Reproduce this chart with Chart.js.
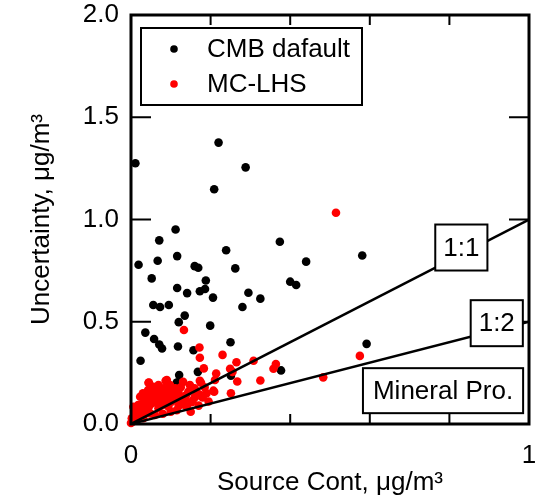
<!DOCTYPE html>
<html lang="en">
<head>
<meta charset="UTF-8">
<title>Mineral Pro. - uncertainty vs source contribution</title>
<script src="https://cdn.jsdelivr.net/npm/chart.js"></script>
<style>
  body { margin: 0; padding: 0; background: #ffffff; }
  canvas { display: block; }
</style>
</head>
<body>
<canvas id="chart" width="539" height="500"></canvas>
<script>
// series (x = source contribution, y = uncertainty, ug/m3)
const cmbX = [0.220, 0.011, 0.288, 0.209, 0.112, 0.071, 0.374, 0.239, 0.019, 0.067,
              0.116, 0.160, 0.169, 0.262, 0.440, 0.581, 0.052, 0.188, 0.116, 0.141,
              0.173, 0.186, 0.206, 0.295, 0.325, 0.400, 0.415, 0.056, 0.073, 0.095,
              0.280, 0.135, 0.120, 0.199, 0.036, 0.058, 0.071, 0.078, 0.118, 0.250,
              0.157, 0.024, 0.592, 0.168, 0.121, 0.377, 0.251, 0.115];
const cmbY = [1.376, 1.275, 1.255, 1.148, 0.951, 0.898, 0.891, 0.850, 0.779, 0.798,
              0.821, 0.772, 0.764, 0.761, 0.794, 0.824, 0.712, 0.702, 0.665, 0.640,
              0.649, 0.660, 0.618, 0.642, 0.613, 0.696, 0.680, 0.582, 0.572, 0.582,
              0.572, 0.530, 0.498, 0.481, 0.447, 0.416, 0.389, 0.369, 0.379, 0.400,
              0.361, 0.309, 0.392, 0.255, 0.239, 0.262, 0.236, 0.203];

const lhsX = [0.515, 0.133, 0.172, 0.173, 0.230, 0.265, 0.308, 0.364, 0.358, 0.575,
              0.483, 0.325, 0.267, 0.249, 0.214, 0.183, 0.207, 0.251, 0.176, 0.173,
              0.044, 0.087, 0.211, 0.255, 0.045, 0.090, 0.069, 0.131, 0.148, 0.176,
              0.111, 0.209, 0.173, 0.127, 0.152, 0.131, 0.060, 0.035, 0.018, 0.010,
              0.002, 0.000, 0.085, 0.102, 0.077, 0.052, 0.035, 0.069, 0.094, 0.023,
              0.048, 0.115, 0.014, 0.031, 0.060, 0.081, 0.098, 0.119, 0.144, 0.056,
              0.043, 0.023, 0.006, 0.040, 0.065, 0.075, 0.095, 0.105, 0.030, 0.050,
              0.015, 0.025, 0.045, 0.070, 0.085, 0.110, 0.135, 0.160, 0.190, 0.100,
              0.080, 0.120, 0.140, 0.005, 0.010, 0.020, 0.030, 0.055, 0.090, 0.125,
              0.160, 0.150, 0.170, 0.195, 0.185, 0.008, 0.012, 0.017, 0.022, 0.028,
              0.033, 0.038, 0.042, 0.047, 0.053, 0.058, 0.063, 0.068, 0.073, 0.078,
              0.083, 0.088, 0.093, 0.107, 0.113, 0.122, 0.138, 0.155, 0.167, 0.180];
const lhsY = [1.033, 0.460, 0.374, 0.324, 0.338, 0.302, 0.309, 0.293, 0.270, 0.333,
              0.228, 0.213, 0.208, 0.270, 0.247, 0.272, 0.163, 0.150, 0.140, 0.211,
              0.202, 0.211, 0.215, 0.255, 0.203, 0.215, 0.190, 0.206, 0.190, 0.202,
              0.174, 0.158, 0.141, 0.133, 0.106, 0.096, 0.150, 0.125, 0.093, 0.060,
              0.028, 0.005, 0.158, 0.109, 0.117, 0.101, 0.068, 0.077, 0.084, 0.044,
              0.052, 0.068, 0.020, 0.028, 0.044, 0.174, 0.190, 0.158, 0.158, 0.182,
              0.166, 0.133, 0.084, 0.140, 0.130, 0.145, 0.140, 0.160, 0.100, 0.120,
              0.050, 0.070, 0.085, 0.100, 0.120, 0.130, 0.120, 0.130, 0.150, 0.060,
              0.050, 0.090, 0.085, 0.012, 0.035, 0.080, 0.150, 0.160, 0.170, 0.180,
              0.175, 0.060, 0.090, 0.110, 0.180, 0.022, 0.045, 0.030, 0.060, 0.052,
              0.090, 0.078, 0.110, 0.098, 0.135, 0.112, 0.170, 0.140, 0.125, 0.150,
              0.095, 0.140, 0.110, 0.125, 0.145, 0.105, 0.140, 0.115, 0.150, 0.130];

// reference ratio lines
const refX = [0, 1];
const ratio11 = [0, 1];
const ratio12 = [0, 0.5];

const seriesNames = ['CMB dafault', 'MC-LHS'];
const ratioNames = ['1:1', '1:2'];
const panelName = 'Mineral Pro.';
const xTitle = 'Source Cont, \u03bcg/m\u00b3';
const yTitle = 'Uncertainty, \u03bcg/m\u00b3';

const FONT = '"Liberation Sans", Arial, sans-serif';
Chart.defaults.font.family = FONT;
Chart.defaults.font.size = 26;
Chart.defaults.color = '#000';

const toPoints = (xs, ys) => xs.map((v, i) => ({ x: v, y: ys[i] }));

// box with white fill, used for the ratio tags and the panel name
function boxedText(ctx, text, cx, cy, padX, h) {
    const w = ctx.measureText(text).width + 2 * padX;
    ctx.fillStyle = '#fff';
    ctx.fillRect(cx - w / 2, cy - h / 2, w, h);
    ctx.lineWidth = 2;
    ctx.strokeStyle = '#000';
    ctx.strokeRect(cx - w / 2, cy - h / 2, w, h);
    ctx.fillStyle = '#000';
    ctx.fillText(text, cx, cy + 1);
}

const decorations = {
    id: 'decorations',
    afterDatasetsDraw(chart) {
        const { ctx, chartArea: a, scales: { x, y } } = chart;
        ctx.save();

        // frame + inward ticks
        ctx.strokeStyle = '#000';
        ctx.lineWidth = 3;
        ctx.strokeRect(a.left, a.top, a.right - a.left, a.bottom - a.top);
        ctx.lineWidth = 2;
        ctx.beginPath();
        x.ticks.forEach(t => {
            const px = x.getPixelForValue(t.value);
            ctx.moveTo(px, a.bottom); ctx.lineTo(px, a.bottom - 10);
            ctx.moveTo(px, a.top); ctx.lineTo(px, a.top + 10);
        });
        y.ticks.forEach(t => {
            const py = y.getPixelForValue(t.value);
            ctx.moveTo(a.left, py); ctx.lineTo(a.left + 20, py);
            ctx.moveTo(a.right, py); ctx.lineTo(a.right - 20, py);
        });
        ctx.stroke();

        // tags on the ratio lines and panel name
        ctx.font = '26px ' + FONT;
        ctx.textAlign = 'center';
        ctx.textBaseline = 'middle';
        boxedText(ctx, ratioNames[0], x.getPixelForValue(0.830), y.getPixelForValue(0.863), 8, 46);
        boxedText(ctx, ratioNames[1], x.getPixelForValue(0.919), y.getPixelForValue(0.493), 8, 46);
        boxedText(ctx, panelName, x.getPixelForValue(0.784), y.getPixelForValue(0.163), 10, 45);

        // legend
        const lx = a.left + 10, ly = a.top + 13;
        ctx.fillStyle = '#fff';
        ctx.fillRect(lx, ly, 221, 77);
        ctx.lineWidth = 2;
        ctx.strokeRect(lx, ly, 221, 77);
        const cols = ['#000000', '#ff0000'];
        ctx.textAlign = 'left';
        seriesNames.forEach((name, i) => {
            const ry = ly + 21 + i * 35;
            ctx.fillStyle = cols[i];
            ctx.beginPath();
            ctx.arc(lx + 33, ry, 3.8, 0, Math.PI * 2);
            ctx.fill();
            ctx.fillStyle = '#000';
            ctx.fillText(name, lx + 66, ry + 1);
        });

        ctx.restore();
    }
};

new Chart(document.getElementById('chart'), {
    type: 'scatter',
    data: {
        datasets: [
            { label: ratioNames[0], data: toPoints(refX, ratio11), showLine: true, borderColor: '#000', borderWidth: 2.5, pointRadius: 0, order: 0 },
            { label: ratioNames[1], data: toPoints(refX, ratio12), showLine: true, borderColor: '#000', borderWidth: 2.5, pointRadius: 0, order: 0 },
            { label: seriesNames[1], data: toPoints(lhsX, lhsY), backgroundColor: '#ff0000', borderWidth: 0, pointRadius: 4.3, clip: false, order: 1 },
            { label: seriesNames[0], data: toPoints(cmbX, cmbY), backgroundColor: '#000000', borderWidth: 0, pointRadius: 4.3, clip: false, order: 2 }
        ]
    },
    options: {
        responsive: false,
        animation: false,
        layout: { padding: { left: 0, top: 15, right: 10, bottom: 0 } },
        plugins: { legend: { display: false }, tooltip: { enabled: false } },
        scales: {
            x: {
                type: 'linear', min: 0, max: 1,
                ticks: {
                    stepSize: 0.2, padding: 16, maxRotation: 0,
                    callback: v => (Math.abs(v) < 1e-9 ? '0' : Math.abs(v - 1) < 1e-9 ? '1' : '')
                },
                grid: { display: false, drawTicks: false },
                border: { display: false },
                title: { display: true, text: xTitle, padding: { top: 0, bottom: 2 } },
                afterFit: s => { s.height = 76; s.paddingLeft = 0; s.paddingRight = 0; }
            },
            y: {
                type: 'linear', min: 0, max: 2,
                ticks: { stepSize: 0.5, padding: 12, callback: v => v.toFixed(1) },
                grid: { display: false, drawTicks: false },
                border: { display: false },
                title: { display: true, text: yTitle, padding: { top: 26, bottom: 0 } },
                afterFit: s => { s.width = 131; s.paddingTop = 0; s.paddingBottom = 0; }
            }
        }
    },
    plugins: [decorations]
});
</script>
</body>
</html>
